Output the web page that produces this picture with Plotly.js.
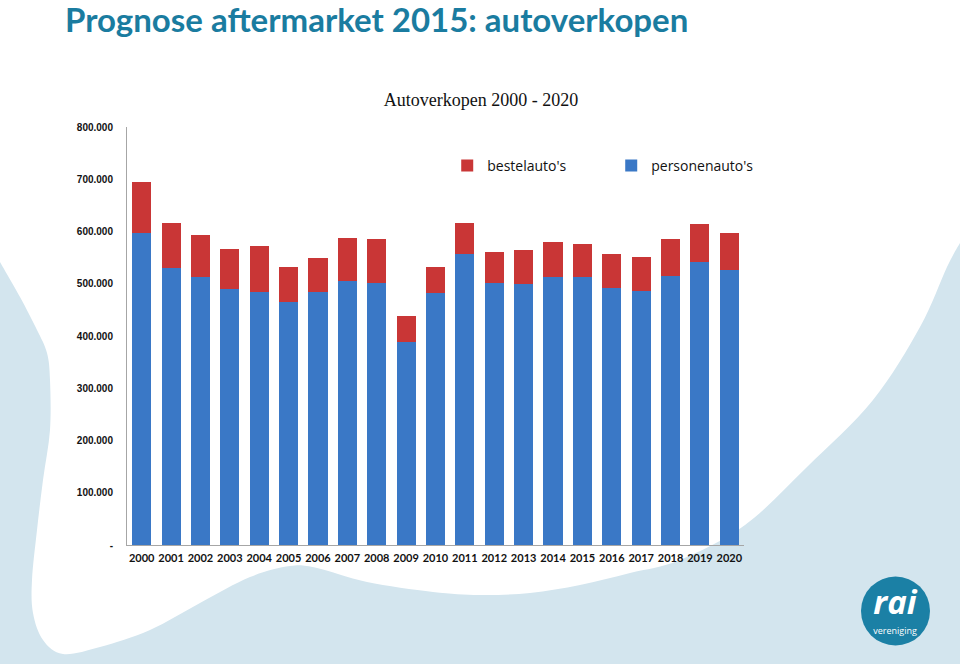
<!DOCTYPE html>
<html><head><meta charset="utf-8">
<script src="https://cdn.plot.ly/plotly-3.0.1.min.js"></script>
<style>
html,body{margin:0;padding:0;width:960px;height:664px;overflow:hidden;background:#d3e5ee;}
#bg{position:absolute;left:0;top:0;}
#chart{position:absolute;left:0;top:0;width:960px;height:664px;}
</style></head><body>
<svg id="bg" width="960" height="664" xmlns="http://www.w3.org/2000/svg">
  <path id="blob" fill="#ffffff" d=""/>
  <circle cx="895.5" cy="611" r="34.5" fill="#1b80a5"/>
  <text x="895" y="614" text-anchor="middle" font-family="Open Sans" font-weight="bold" font-style="italic" font-size="33" fill="#ffffff">rai</text>
  <text x="895" y="634" text-anchor="middle" font-family="Open Sans" font-size="9" fill="#ffffff">vereniging</text>
</svg>
<div id="chart"></div>
<script>
// ---- data ----
const years = ['2000','2001','2002','2003','2004','2005','2006','2007','2008','2009','2010','2011','2012','2013','2014','2015','2016','2017','2018','2019','2020'];
const personenauto = [598000,531000,512000,490000,484000,466000,484000,506000,501000,388000,483000,557000,501000,500000,513000,512000,491000,486000,515000,541000,526000];
const bestelauto   = [97000,85000,81000,77000,88000,66000,66000,81000,84000,51000,50000,59000,60000,65000,66000,65000,66000,66000,71000,73000,71000];
const yTickVals  = [0,100000,200000,300000,400000,500000,600000,700000,800000];
const yTickText  = ['-','100.000','200.000','300.000','400.000','500.000','600.000','700.000','800.000'];

// ---- decorative background swoosh ----
(function(){
  const pts = [[960,243],[947,267],[920,327],[873,400],[807,467],[745,525],[680,560],[630,573],[580,585],[530,593],[480,595],[433,592],[367,582],[317,568],[290,566],[250,577],[200,603],[150,630],[100,647],[63,654],[43,640],[33,613],[32,580],[37,530],[43,480],[50,430],[50,380],[47,353],[37,330],[20,297],[0,262]];
  let d = 'M0,0 L960,0 L'+pts[0][0]+','+pts[0][1];
  for (let i=0;i<pts.length-1;i++){
    const p0 = pts[Math.max(0,i-1)], p1 = pts[i], p2 = pts[i+1], p3 = pts[Math.min(pts.length-1,i+2)];
    const c1 = [p1[0]+(p2[0]-p0[0])/6, p1[1]+(p2[1]-p0[1])/6];
    const c2 = [p2[0]-(p3[0]-p1[0])/6, p2[1]-(p3[1]-p1[1])/6];
    d += ' C'+c1[0]+','+c1[1]+' '+c2[0]+','+c2[1]+' '+p2[0]+','+p2[1];
  }
  d += ' Z';
  document.getElementById('blob').setAttribute('d', d);
})();

const traces = [
  {type:'bar', name:"personenauto's", x:years, y:personenauto, marker:{color:'#3a78c6', line:{width:0}}},
  {type:'bar', name:"bestelauto's", x:years, y:bestelauto, marker:{color:'#c93636', line:{width:0}}}
];

const layout = {
  width:960, height:664,
  margin:{l:127, r:216, t:127, b:119, pad:0},
  paper_bgcolor:'rgba(0,0,0,0)', plot_bgcolor:'rgba(0,0,0,0)',
  barmode:'stack', bargap:0.35,
  showlegend:true,
  title:{text:'Autoverkopen 2000 - 2020', font:{family:'Liberation Serif', size:18, color:'#111111'},
         x:481/960, xanchor:'center', y:1-100/664, yanchor:'middle'},
  legend:{orientation:'h', x:0.519, xanchor:'left', y:(545-166)/418, yanchor:'middle',
          traceorder:'reversed', font:{family:'Open Sans', size:14, color:'#111111'},
          bgcolor:'rgba(0,0,0,0)', entrywidth:119},
  xaxis:{type:'category', showline:true, linecolor:'#a6a6a6', linewidth:1, ticks:'', showgrid:false,
         tickfont:{family:'Lato', size:11, color:'#111111', weight:'bold'}, ticklabelstandoff:3, fixedrange:true},
  yaxis:{range:[0,800000], tickvals:yTickVals, ticktext:yTickText, showline:true, linecolor:'#a6a6a6', linewidth:1,
         ticks:'', showgrid:false, zeroline:false, ticklabelstandoff:11,
         tickfont:{family:'Liberation Sans', size:10, color:'#111111', weight:'bold'}, fixedrange:true},
  annotations:[
    {text:'Prognose aftermarket 2015: autoverkopen', xref:'paper', yref:'paper',
     x:(63-127)/617, xanchor:'left', y:(545-19)/418, yanchor:'middle', showarrow:false,
     font:{family:'Lato', size:33, color:'#1a7ca0', weight:'bold'}}
  ]
};

Plotly.newPlot('chart', traces, layout, {displayModeBar:false, staticPlot:true});
</script>
</body></html>
